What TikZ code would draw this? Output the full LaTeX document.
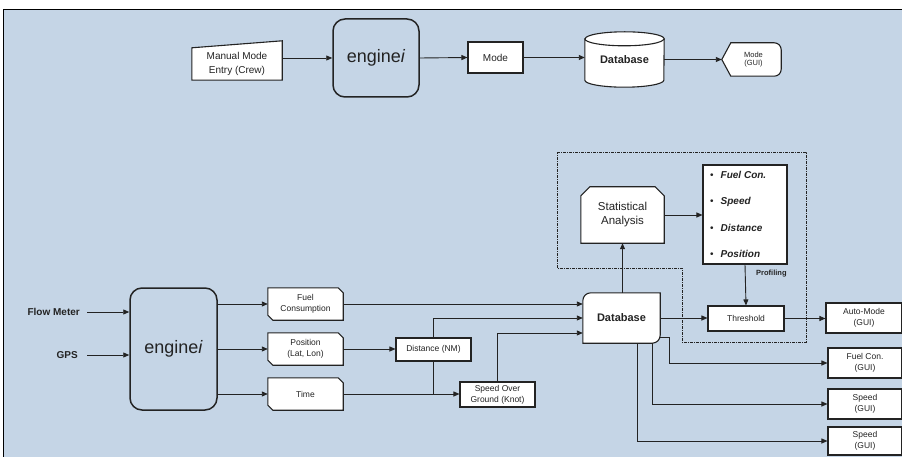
\documentclass[tikz,border=0pt]{standalone}
\usepackage{fontspec}
\setmainfont{Liberation Sans}
\usetikzlibrary{arrows.meta,calc}
\pgfdeclarelayer{bg}
\pgfdeclarelayer{shp}
\pgfsetlayers{bg,shp,main}
\definecolor{bgblue}{RGB}{197,213,230}
\definecolor{ink}{RGB}{35,35,35}
\newcommand{\cardshape}[1]{%
  \draw[shapeline] (#1.north west) -- ([xshift=-5pt]#1.north east) -- ([yshift=-5pt]#1.north east)
    -- (#1.south east) -- ([xshift=5pt]#1.south west) -- ([yshift=5pt]#1.south west) -- cycle;}
\begin{document}
\begin{tikzpicture}[x=1pt,y=-1pt,
  tx/.style={rectangle, draw=none, inner sep=0pt, align=center, text=ink},
  box/.style={rectangle, draw=ink, line width=1.1pt, fill=white, inner sep=0pt, align=center, text=ink},
  eng/.style={rectangle, draw=ink, line width=1.5pt, rounded corners=12pt, fill=bgblue, inner sep=0pt, text=ink},
  shapeline/.style={draw=ink, line width=1.1pt, fill=white},
  conn/.style={draw=ink, line width=0.9pt, -{Triangle[length=6pt,width=5pt]}},
  plain/.style={draw=ink, line width=0.9pt},
  fsev/.style={font=\fontsize{7.5}{8.5}\selectfont},
  fsml/.style={font=\fontsize{8.5}{10.8}\selectfont},
  ften/.style={font=\fontsize{10}{13.5}\selectfont},
  fbold/.style={font=\fontsize{10}{12}\selectfont\bfseries},
  fdb/.style={font=\fontsize{11}{13}\selectfont\bfseries},
  fstat/.style={font=\fontsize{11.5}{14}\selectfont},
  feng/.style={font=\fontsize{18}{20}\selectfont},
  flist/.style={font=\fontsize{10}{12}\selectfont\bfseries\itshape},
  fprof/.style={font=\fontsize{7.5}{9}\selectfont\bfseries}
]
\useasboundingbox (0,0) rectangle (902,457);
\begin{pgfonlayer}{bg}
  \fill[white] (0,0) rectangle (902,457);
  \fill[bgblue] (3,10) rectangle (902,457);
  \draw[black, line width=1pt] (3,457) -- (3,10) -- (902,10);
\end{pgfonlayer}

% ---------- top row ----------
\node[tx, ften, minimum width=90, minimum height=32] (manual) at (237,64) {Manual Mode\\Entry (Crew)};
\node[eng, feng, minimum width=86, minimum height=78] (engine1) at (376,58) {engine\textit{i}};
\node[box, ften, minimum width=55, minimum height=31] (mode) at (495.5,57.5) {Mode};
\node[tx, fdb, minimum width=79, minimum height=55] (db1) at (624.5,59.5) {\raisebox{-5pt}{Database}};
\node[tx, fsev, minimum width=59, minimum height=33] (modegui) at (751.5,59.5) {\hspace*{4pt}Mode\\\hspace*{4pt}(GUI)};

% ---------- bottom part ----------
\node[tx, fbold, anchor=east] (flow) at (80,312) {Flow Meter};
\node[tx, fbold, anchor=east] (gps) at (78,355) {GPS};
\node[eng, feng, minimum width=87, minimum height=122] (engine2) at (173.5,349) {engine\textit{i}};
\node[tx, fsml, minimum width=75, minimum height=32] (fuel) at (305.5,304) {Fuel\\Consumption};
\node[tx, fsml, minimum width=75, minimum height=32] (pos) at (305.5,349) {Position\\(Lat, Lon)};
\node[tx, fsml, minimum width=75, minimum height=32] (time) at (305.5,394) {Time};
\node[box, fsml, minimum width=75, minimum height=23] (dist) at (433.5,349.5) {Distance (NM)};
\node[box, fsml, minimum width=75, minimum height=25] (sog) at (497.5,394.5) {Speed Over\\Ground (Knot)};
\node[tx, fdb, minimum width=77, minimum height=50] (db2) at (621.5,318) {Database};
\node[tx, fstat, minimum width=83, minimum height=56] (stat) at (622.5,215) {Statistical\\Analysis};
\node[box, minimum width=84, minimum height=99] (list) at (745,214.5) {};
\node[tx, flist, anchor=west] (l1) at (710,175) {{\upshape\mdseries\textbullet}\hspace{7pt}Fuel Con.};
\node[tx, flist, anchor=west] (l2) at (710,202) {{\upshape\mdseries\textbullet}\hspace{7pt}Speed};
\node[tx, flist, anchor=west] (l3) at (710,228) {{\upshape\mdseries\textbullet}\hspace{7pt}Distance};
\node[tx, flist, anchor=west] (l4) at (710,254) {{\upshape\mdseries\textbullet}\hspace{7pt}Position};
\node[tx, fprof, anchor=west] (prof) at (756,274) {Profiling};
\node[box, fsml, minimum width=76, minimum height=25] (thresh) at (746,318.5) {Threshold};
\node[box, fsml, minimum width=76, minimum height=30] (auto) at (864,318) {Auto-Mode\\(GUI)};
\node[box, fsml, minimum width=74, minimum height=30] (fuelgui) at (865,363) {Fuel Con.\\(GUI)};
\node[box, fsml, minimum width=74, minimum height=30] (speed1) at (865,404) {Speed\\(GUI)};
\node[box, fsml, minimum width=74, minimum height=28] (speed2) at (865,441) {Speed\\(GUI)};

% ---------- custom shapes ----------
\begin{pgfonlayer}{shp}
  \draw[shapeline] (manual.south west) -- (manual.north west) -- ([yshift=7pt]manual.north east) -- (manual.south east) -- cycle;
  \draw[shapeline] ([yshift=-7pt]db1.north west) -- ([yshift=7pt]db1.south west)
     arc[start angle=180, end angle=360, x radius=39.5pt, y radius=7pt]
     -- ([yshift=-7pt]db1.north east)
     arc[start angle=0, end angle=180, x radius=39.5pt, y radius=7pt] -- cycle;
  \draw[draw=ink, line width=1.1pt] ([yshift=-7pt]db1.north west) arc[start angle=180, end angle=360, x radius=39.5pt, y radius=7pt];
  \draw[shapeline] (modegui.west) -- ([xshift=9pt]modegui.north west) -- ([xshift=-7pt]modegui.north east)
     arc[start angle=90, end angle=0, radius=7pt] -- ([yshift=7pt]modegui.south east)
     arc[start angle=0, end angle=-90, radius=7pt] -- ([xshift=9pt]modegui.south west) -- cycle;
  \cardshape{fuel}
  \cardshape{pos}
  \cardshape{time}
  \draw[shapeline] ([yshift=-8pt]db2.north west) arc[start angle=180, end angle=90, radius=8pt]
     -- (db2.north east) -- ([yshift=8pt]db2.south east) arc[start angle=0, end angle=-90, radius=8pt]
     -- (db2.south west) -- cycle;
  \draw[shapeline] (stat.south west) -- ([yshift=-9pt]stat.north west) -- ([xshift=9pt]stat.north west)
     -- ([xshift=-9pt]stat.north east) -- ([yshift=-9pt]stat.north east) -- (stat.south east) -- cycle;
\end{pgfonlayer}

% dashed frame
\draw[ink, line width=0.7pt, dash pattern=on 3pt off 1pt on 1pt off 1pt]
  (557,152) -- (806,152) -- (806,342) -- (682,342) -- (682,268) -- (557,268) -- cycle;

% ---------- connectors ----------
\draw[conn] (manual.east |- engine1.west) -- (engine1.west);
\draw[conn] (engine1.east) -- (mode.west);
\draw[conn] (mode.east) -- (mode.east -| db1.west);
\draw[conn] (db1.east) -- (modegui.west);

\draw[conn] ([xshift=7pt]flow.east) -- (flow.east -| engine2.west);
\draw[conn] ([xshift=9pt]gps.east) -- (gps.east -| engine2.west);
\draw[conn] (engine2.east |- fuel.west) -- (fuel.west);
\draw[conn] (engine2.east |- pos.west) -- (pos.west);
\draw[conn] (engine2.east |- time.west) -- (time.west);
\draw[conn] (pos.east) -- (pos.east -| dist.west);
\draw[conn] (time.east) -- (time.east -| sog.west);
\draw[plain] (dist.south) -- (dist.south |- time.east);
\draw[conn] (fuel.east) -- (fuel.east -| db2.west);
\draw[conn] (dist.north) |- (db2.west);
\draw[conn] (sog.north) |- ([yshift=-15pt]db2.west);
\draw[conn] (stat.south |- db2.north) -- (stat.south);
\draw[conn] (stat.east) -- (stat.east -| list.west);
\draw[conn] (list.south) -- (thresh.north);
\draw[conn] (db2.east) -- (db2.east -| thresh.west);
\draw[conn] (thresh.east) -- (thresh.east -| auto.west);
\draw[conn] ([yshift=-19pt]db2.east) -- ++(9,0) |- (fuelgui.west);
\draw[conn] ([xshift=30.5pt]db2.south) |- (speed1.west);
\draw[conn] ([xshift=15.5pt]db2.south) |- (speed2.west);
\end{tikzpicture}
\end{document}
